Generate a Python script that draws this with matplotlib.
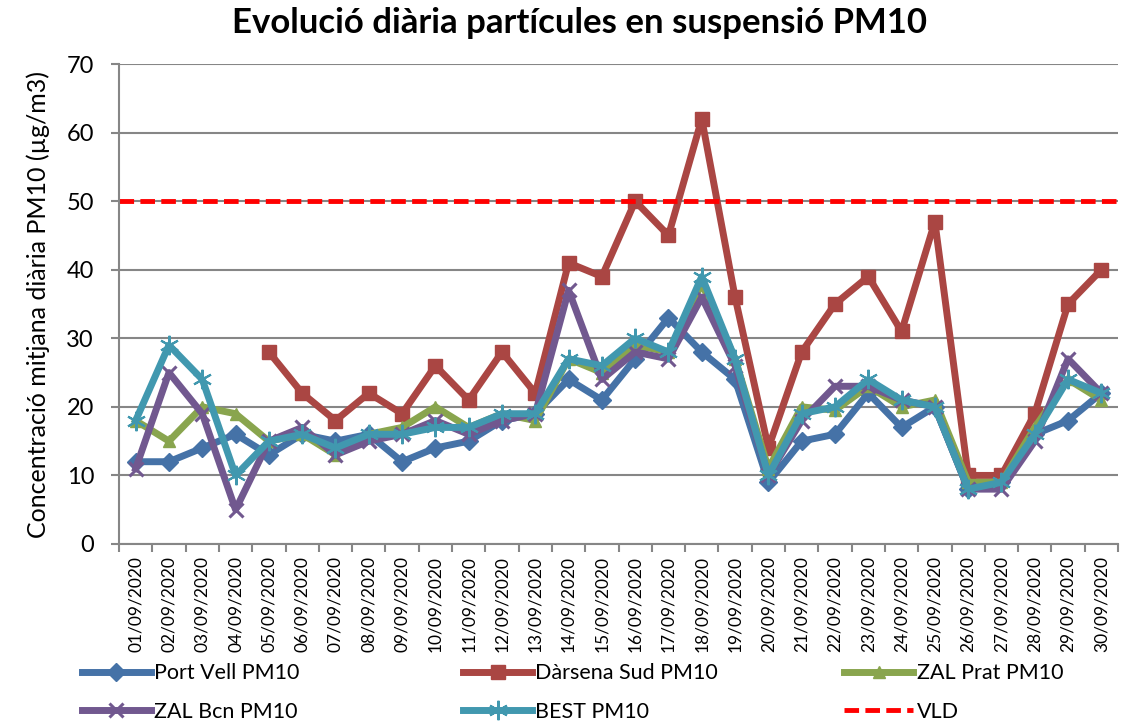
import matplotlib.pyplot as plt
import numpy as np

# Dades diàries setembre 2020
dies = ["%02d/09/2020" % d for d in range(1, 31)]

port_vell = [12, 12, 14, 16, 13, 16, 15, 16, 12, 14, 15, 18, 19, 24, 21,
             27, 33, 28, 24, 9, 15, 16, 22, 17, 20, 8, 9, 16, 18, 22]
darsena_sud = [np.nan, np.nan, np.nan, np.nan, 28, 22, 18, 22, 19, 26, 21, 28, 22, 41, 39,
               50, 45, 62, 36, 14, 28, 35, 39, 31, 47, 10, 10, 19, 35, 40]
zal_prat = [18, 15, 20, 19, 15, 16, 13, 16, 17, 20, 17, 19, 18, 27, 25,
            29, 28, 38, 27, 11, 20, 19.5, 23, 20, 21, 9, 9, 17, 24, 21]
zal_bcn = [11, 25, 19, 5, 15, 17, 13, 15, 16, 18, 16, 18, 19, 37, 24,
           28, 27, 36, 26, 10, 18, 23, 23, 21, 20, 8, 8, 15, 27, 22]
best = [18, 29, 24, 10, 15, 16, 14, 16, 16, 17, 17, 19, 19, 27, 26,
        30, 28, 39, 27, 10, 19, 20, 24, 21, 20, 8, 9, 16, 24, 22]
vld = 50

plt.rcParams['font.family'] = ['Lato', 'DejaVu Sans']

fig = plt.figure(figsize=(11.25, 7.26), dpi=100)
ax = fig.add_axes([0.1058, 0.2507, 0.888, 0.6611])

x = np.arange(len(dies))
lw = 5
h1, = ax.plot(x, port_vell, color='#4572A7', lw=lw, marker='D', ms=9, label='Port Vell PM10')
h2, = ax.plot(x, darsena_sud, color='#AA4643', lw=lw, marker='s', ms=10, label='Dàrsena Sud PM10')
h3, = ax.plot(x, zal_prat, color='#89A54E', lw=lw, marker='^', ms=9, label='ZAL Prat PM10')
h4, = ax.plot(x, zal_bcn, color='#71588F', lw=lw, marker='x', ms=10, mew=2.2, label='ZAL Bcn PM10')
h5, = ax.plot(x, best, color='#4198AF', lw=lw, marker=(6, 2, 0), ms=14, mew=1.5, label='BEST PM10')
h6 = ax.axhline(vld, color='#FF0000', lw=3.5, ls=(0, (3, 1.3)), label='VLD')

ax.set_xlim(-0.5, len(dies) - 0.5)
ax.set_ylim(0, 70)
ax.set_yticks(np.arange(0, 71, 10))
ax.set_xticks(x)
ax.set_xticklabels(dies, rotation=90, fontsize=12.5)
ax.set_xticks(np.arange(-0.5, len(dies), 1), minor=True)
ax.tick_params(axis='x', which='major', length=0, pad=9)
ax.tick_params(axis='x', which='minor', length=6, width=1.5, color='#868686')
ax.tick_params(axis='y', length=6, width=1.5, color='#868686', labelsize=17, pad=12)
ax.grid(axis='y', color='#868686', lw=1.5)
ax.set_axisbelow(True)
for s in ['top', 'right']:
    ax.spines[s].set_visible(False)
for s in ['left', 'bottom']:
    ax.spines[s].set_color('#868686')
    ax.spines[s].set_linewidth(1.5)

ax.set_ylabel('Concentració mitjana diària PM10 (µg/m3)', fontsize=18, labelpad=12)
fig.suptitle('Evolució diària partícules en suspensió PM10', fontsize=25,
             fontweight='bold', x=0.515, y=0.99)

# Llegenda en tres columnes
cols = [(h1, h4), (h2, h5), (h3, h6)]
xs = [0.065, 0.404, 0.743]
for hs, xp in zip(cols, xs):
    lg = fig.legend(handles=list(hs), loc='upper left', bbox_to_anchor=(xp, 0.098),
                    frameon=False, fontsize=15.5, handlelength=3.2, handletextpad=0.15,
                    labelspacing=0.85, borderaxespad=0)

fig.savefig('out.png', dpi=100)
